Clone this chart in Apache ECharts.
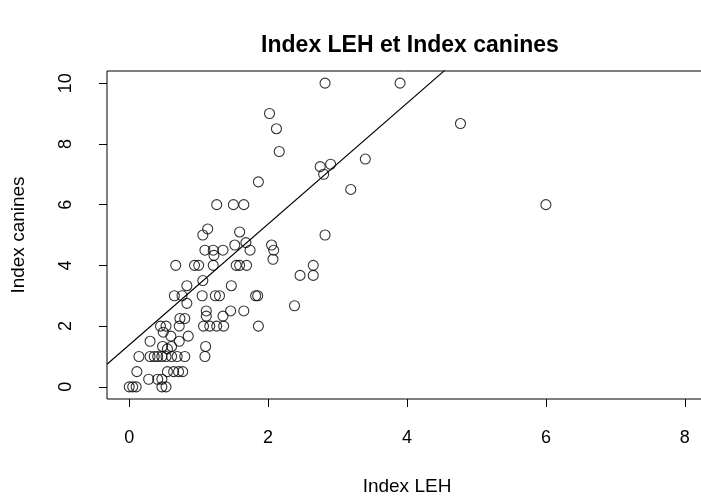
<!DOCTYPE html>
<html>
<head>
<meta charset="utf-8">
<script src="https://cdn.jsdelivr.net/npm/echarts@6/dist/echarts.min.js"></script>
<style>
  html, body { margin: 0; padding: 0; background: #fff; }
  #chart { width: 701px; height: 498px; }
</style>
</head>
<body>
<div id="chart"></div>
<script>
// Index LEH (x) and Index canines (y), one pair per individual
const indexLEH = [
  0, 0.05, 0.1, 0.47, 0.53,
  0.28, 0.41, 0.47,
  0.11, 0.55, 0.64, 0.71, 0.77,
  0.14, 0.30, 0.36, 0.41, 0.47, 0.53, 0.61, 0.69, 0.80, 1.09,
  0.48, 0.55, 0.61, 1.10,
  0.30, 0.72,
  0.60, 0.85,
  0.49,
  0.45, 0.53, 0.72, 1.07, 1.16, 1.26, 1.36, 1.86,
  0.73, 0.80,
  1.11, 1.35,
  1.11, 1.46, 1.65,
  2.38,
  0.83,
  0.65, 0.76, 1.05, 1.24, 1.30, 1.82, 1.85,
  0.83, 1.47,
  1.06,
  2.46, 2.65,
  0.67, 0.94, 1.00, 1.21, 1.54, 1.59, 1.69, 2.65,
  1.22, 2.07,
  1.09, 1.21, 1.35, 1.74, 2.08,
  1.52, 2.05,
  1.68,
  1.06, 2.82,
  1.59,
  1.13,
  1.26, 1.50, 1.65, 6.00,
  3.19,
  1.86,
  2.80,
  2.75,
  2.90,
  3.40,
  2.16,
  2.12,
  4.77,
  2.02,
  2.82, 3.90
];
const indexCanines = [
  0, 0, 0, 0, 0,
  0.25, 0.25, 0.25,
  0.5, 0.5, 0.5, 0.5, 0.5,
  1, 1, 1, 1, 1, 1, 1, 1, 1, 1,
  1.33, 1.25, 1.33, 1.33,
  1.5, 1.5,
  1.67, 1.67,
  1.8,
  2, 2, 2, 2, 2, 2, 2, 2,
  2.25, 2.25,
  2.33, 2.33,
  2.5, 2.5, 2.5,
  2.67,
  2.75,
  3, 3, 3, 3, 3, 3, 3,
  3.33, 3.33,
  3.5,
  3.67, 3.67,
  4, 4, 4, 4, 4, 4, 4, 4,
  4.33, 4.2,
  4.5, 4.5, 4.5, 4.5, 4.5,
  4.67, 4.67,
  4.75,
  5, 5,
  5.1,
  5.2,
  6, 6, 6, 6,
  6.5,
  6.75,
  7,
  7.25,
  7.33,
  7.5,
  7.75,
  8.5,
  8.67,
  9,
  10, 10
];

// Least-squares line: canines = a + b * LEH
const fitIntercept = 1.38;
const fitSlope = 1.99;

const xTicks = [0, 2, 4, 6, 8];
const yTicks = [0, 2, 4, 6, 8, 10];

// Axis ranges padded 4% beyond the tick span
const xMin = -0.32, xMax = 8.32;
const yMin = -0.4, yMax = 10.4;

const points = indexLEH.map((x, i) => [x, indexCanines[i]]);
const fitLine = [xMin, xMax].map(x => [x, fitIntercept + fitSlope * x]);

const FONT = '"Liberation Sans", Arial, Helvetica, sans-serif';

const chart = echarts.init(document.getElementById('chart'), null, { renderer: 'canvas' });
chart.setOption({
  animation: false,
  backgroundColor: '#fff',
  grid: {
    left: 107, top: 71, width: 600, height: 328,
    outerBoundsMode: 'none',
    containLabel: false,
    show: true, borderColor: '#000', borderWidth: 1,
    backgroundColor: 'transparent'
  },
  graphic: [{
    type: 'text',
    x: 410, y: 46,
    style: {
      text: 'Index LEH et Index canines',
      font: 'bold 23px ' + FONT,
      fill: '#000',
      align: 'center',
      verticalAlign: 'middle'
    }
  }],
  xAxis: {
    type: 'value',
    min: xMin, max: xMax,
    name: 'Index LEH',
    nameLocation: 'middle',
    nameGap: 78,
    nameTextStyle: { color: '#000', fontSize: 19, fontFamily: FONT },
    axisLine: { show: false, onZero: false },
    splitLine: { show: false },
    axisTick: {
      show: true, length: 8, inside: false,
      customValues: xTicks,
      lineStyle: { color: '#000', width: 1 }
    },
    axisLabel: {
      customValues: xTicks,
      margin: 39,
      color: '#000', fontSize: 18, fontFamily: FONT,
      verticalAlign: 'middle'
    }
  },
  yAxis: {
    type: 'value',
    min: yMin, max: yMax,
    name: 'Index canines',
    nameLocation: 'middle',
    nameGap: 79,
    nameRotate: 90,
    nameTextStyle: { color: '#000', fontSize: 19, fontFamily: FONT },
    axisLine: { show: false, onZero: false },
    splitLine: { show: false },
    axisTick: {
      show: true, length: 8, inside: false,
      customValues: yTicks,
      lineStyle: { color: '#000', width: 1 }
    },
    axisLabel: {
      customValues: yTicks,
      rotate: 90,
      margin: 41,
      color: '#000', fontSize: 18, fontFamily: FONT,
      align: 'center',
      verticalAlign: 'middle'
    }
  },
  series: [
    {
      type: 'scatter',
      data: points,
      symbol: 'circle',
      symbolSize: 10,
      itemStyle: { color: 'rgba(0,0,0,0)', borderColor: '#000', borderWidth: 1.1 },
      emphasis: { disabled: true },
      z: 3
    },
    {
      type: 'line',
      data: fitLine,
      showSymbol: false,
      clip: true,
      lineStyle: { color: '#000', width: 1.1 },
      emphasis: { disabled: true },
      z: 2
    }
  ]
});
</script>
</body>
</html>
